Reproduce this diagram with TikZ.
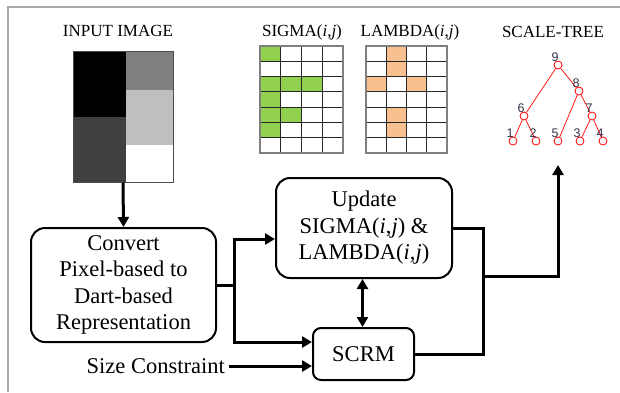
\documentclass[tikz,border=0pt]{standalone}
\usepackage{fontspec}
\setmainfont{Liberation Serif}
\newfontfamily\treefont{Liberation Sans}
\usetikzlibrary{arrows.meta}
\definecolor{sgreen}{HTML}{92D050}
\definecolor{lorange}{HTML}{F9C08F}
\definecolor{framegray}{HTML}{A8A8A8}
\definecolor{tlabc}{HTML}{33334A}
\tikzset{
  procbox/.style={draw, line width=2pt, rounded corners=14pt, align=center, font=\fontsize{22.5}{26.5}\selectfont, inner sep=0pt},
  flow/.style={line width=3pt, -{Triangle[length=10pt,width=11pt]}},
  flowline/.style={line width=3pt},
  bflow/.style={line width=3pt, {Triangle[length=10pt,width=11pt]}-{Triangle[length=10pt,width=11pt]}},
  ttl/.style={font=\fontsize{17}{20}\selectfont, inner sep=0pt},
  tnode/.style={circle, draw=red, line width=0.8pt, minimum size=8pt, inner sep=0pt},
  tedge/.style={red, line width=0.7pt},
  tlab/.style={font=\treefont\fontsize{12.5}{12.5}\selectfont, text=tlabc, inner sep=0pt},
  gridl/.style={line width=0.8pt, black!85},
  gridb/.style={line width=1.3pt, gray}
}
\begin{document}
\begin{tikzpicture}[x=1pt,y=-1pt]
\useasboundingbox (0,0) rectangle (620,392);
% frame
\draw[framegray, line width=1.5pt] (8,392) -- (8,7) -- (620,7);

% input image
\node[ttl] (tin) at (118,31) {INPUT IMAGE};
\fill[black] (73,51) rectangle (126,117);
\fill[black!75] (73,117) rectangle (126,182);
\fill[black!50] (126,51) rectangle (173,90);
\fill[black!25] (126,90) rectangle (173,145);
\fill[white] (126,145) rectangle (173,182);
\node[draw=black!70, line width=1pt, minimum width=100pt, minimum height=131pt, inner sep=0pt] (img) at (123,116.5) {};

% SIGMA grid
\node[ttl] (tsig) at (302,32) {SIGMA(\textit{i},\textit{j})};
\def\cw{20.75}\def\ch{15.2857}
\foreach \c/\r in {0/0,0/2,1/2,2/2,0/3,0/4,1/4,0/5}
  \fill[sgreen] (260+\c*\cw,46+\r*\ch) rectangle ++(\cw,\ch);
\foreach \i in {1,2,3} \draw[gridl] (260+\i*\cw,46) -- ++(0,107);
\foreach \j in {1,...,6} \draw[gridl] (260,46+\j*\ch) -- ++(83,0);
\draw[gridb] (260,46) rectangle (343,153);

% LAMBDA grid
\node[ttl] (tlam) at (410,32) {LAMBDA(\textit{i},\textit{j})};
\def\lw{20.25}
\foreach \c/\r in {1/0,1/1,0/2,2/2,1/4,1/5}
  \fill[lorange] (366+\c*\lw,46+\r*\ch) rectangle ++(\lw,\ch);
\foreach \i in {1,2,3} \draw[gridl] (366+\i*\lw,46) -- ++(0,107);
\foreach \j in {1,...,6} \draw[gridl] (366,46+\j*\ch) -- ++(81,0);
\draw[gridb] (366,46) rectangle (447,153);

% scale tree
\node[ttl] (ttree) at (553,32) {SCALE-TREE};
\node[tnode] (t9) at (558,65) {};
\node[tnode] (t8) at (579,91) {};
\node[tnode] (t6) at (524,116) {};
\node[tnode] (t7) at (592,116) {};
\node[tnode] (t1) at (513,141) {};
\node[tnode] (t2) at (536,141) {};
\node[tnode] (t5) at (558,141) {};
\node[tnode] (t3) at (580,141) {};
\node[tnode] (t4) at (603,141) {};
\foreach \a/\b in {t9/t6,t9/t8,t8/t5,t8/t7,t6/t1,t6/t2,t7/t3,t7/t4}
  \draw[tedge] (\a) -- (\b);
\foreach \n in {1,...,9}
  \node[tlab] (l\n) at ([shift={(-3,-8)}]t\n.center) {\n};
\coordinate (treein) at (558,165);

% boxes
\node[procbox, minimum width=185pt, minimum height=114pt] (conv) at (123.5,285)
  {Convert\\Pixel-based to\\Dart-based\\Representation};
\node[procbox, minimum width=176pt, minimum height=100pt] (upd) at (364,228)
  {Update\\SIGMA(\textit{i},\textit{j}) \&\\LAMBDA(\textit{i},\textit{j})};
\node[procbox, rounded corners=8pt, minimum width=101pt, minimum height=52pt] (scrm) at (363.5,354) {SCRM};
\node[font=\fontsize{22.5}{26}\selectfont, inner sep=0pt, anchor=east] (size) at (225,366) {Size Constraint};

% connectors
\draw[flow] (img.south) -- (conv.north);
\coordinate (split) at (234,285);
\draw[flowline] (conv.east) -- (split);
\draw[flow] (split) |- ([yshift=-11pt]upd.west);
\draw[flow] (split) |- ([yshift=12pt]scrm.west);
\draw[flow] ([xshift=4pt]size.east) -- ([yshift=-12pt]scrm.west);
\draw[bflow] ([xshift=-1.5pt]upd.south) -- ([xshift=-1pt]scrm.north);
\coordinate (join) at (483,276);
\draw[flowline] (upd.east) -| (join);
\draw[flowline] (scrm.east) -| (join);
\draw[flow] (join) -| (treein);
\end{tikzpicture}
\end{document}
